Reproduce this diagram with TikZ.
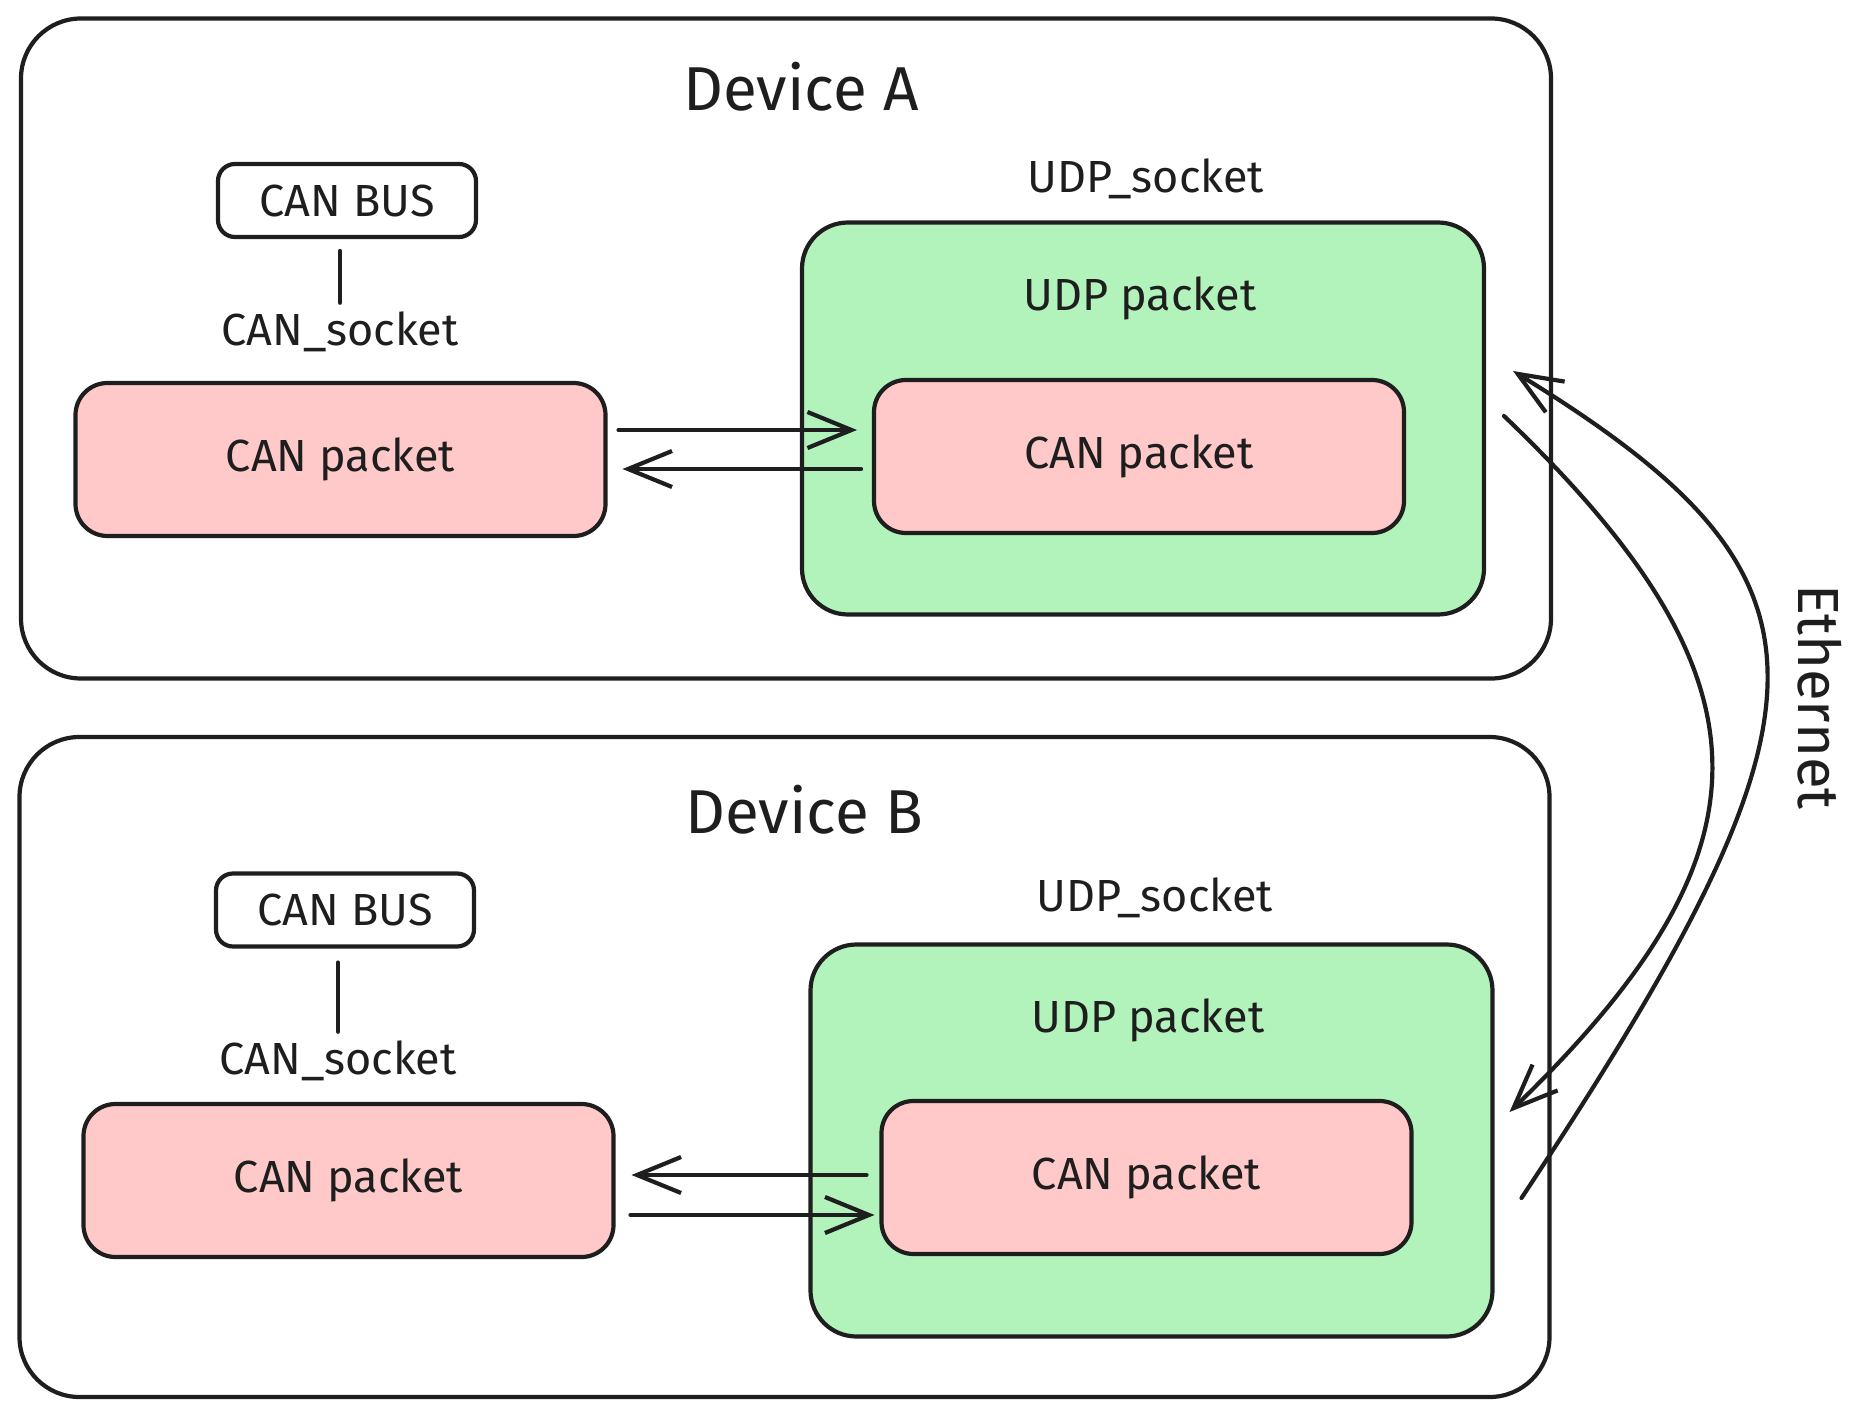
\documentclass[tikz,border=0pt]{standalone}
\usepackage{fontspec}
\setmainfont{Fira Sans}
\usetikzlibrary{arrows.meta}
\definecolor{ink}{HTML}{1E1E1E}
\definecolor{udpgreen}{HTML}{B2F2BB}
\definecolor{canred}{HTML}{FFC9C9}
\newcommand{\lblfont}{\fontsize{45}{54}\selectfont}
\newcommand{\titlefont}{\fontsize{62}{74}\selectfont}
\newcommand{\ethfont}{\fontsize{58}{70}\selectfont}
\tikzstyle{device} = [rectangle, rounded corners=60pt, minimum width=1530pt, minimum height=660pt, draw=ink, line width=4.2pt, outer sep=0pt]
\tikzstyle{udp} = [rectangle, rounded corners=46pt, minimum width=682pt, minimum height=392pt, draw=ink, fill=udpgreen, line width=4.2pt, outer sep=0pt]
\tikzstyle{packet} = [rectangle, rounded corners=32pt, minimum width=530pt, minimum height=153pt, draw=ink, fill=canred, line width=4.2pt, outer sep=0pt, text=ink, font=\lblfont]
\tikzstyle{bus} = [rectangle, rounded corners=17pt, minimum width=258pt, minimum height=73pt, draw=ink, line width=4.2pt, outer sep=0pt, text=ink, font=\lblfont]
\tikzstyle{tag} = [inner sep=0pt, text=ink, font=\lblfont]
\tikzstyle{heading} = [inner sep=0pt, text=ink, font=\titlefont]
\tikzstyle{flow} = [draw=ink, line width=4.2pt, line cap=round, -{Straight Barb[length=44pt,width=36pt]}]
\tikzstyle{link} = [draw=ink, line width=4.2pt, line cap=round]

\begin{document}
\begin{tikzpicture}[x=1pt, y=-1pt]
\useasboundingbox (0,0) rectangle (1875,1415);

% Device A
\node (devA) [device] at (786,348.5) {};
\node (titleA) [heading] at (801,87) {Device A};
\node (busA) [bus] at (347,200.5) {CAN BUS};
\node (sockA) [tag] at (340,332) {CAN\_socket};
\node (pktA) [packet] at (340.5,459.5) {CAN packet};
\node (udpsockA) [tag] at (1146,179) {UDP\_socket};
\node (udpA) [udp] at (1143,418.5) {};
\node (udplblA) [tag] at (1140,298) {UDP packet};
\node (inA) [packet] at (1139,456.5) {CAN packet};

\draw [link, shorten <=14pt, shorten >=9pt] (sockA.north |- busA.south) -- (sockA.north);
\draw [flow, shorten <=13pt, shorten >=17pt] ([yshift=29.5pt]pktA.east) -- ([yshift=29.5pt]pktA.east -| inA.west);
\draw [flow, shorten <=13pt, shorten >=17pt] ([yshift=-9.5pt]pktA.east -| inA.west) -- ([yshift=-9.5pt]pktA.east);

% Device B
\node (devB) [device] at (784.5,1067) {};
\node (titleB) [heading] at (804,810) {Device B};
\node (busB) [bus] at (345,910) {CAN BUS};
\node (sockB) [tag] at (338,1061) {CAN\_socket};
\node (pktB) [packet] at (348.5,1180.5) {CAN packet};
\node (udpsockB) [tag] at (1155,898) {UDP\_socket};
\node (udpB) [udp] at (1151.5,1140.5) {};
\node (udplblB) [tag] at (1148,1020) {UDP packet};
\node (inB) [packet] at (1146.5,1177.5) {CAN packet};

\draw [link, shorten <=16pt, shorten >=9pt] (sockB.north |- busB.south) -- (sockB.north);
\draw [flow, shorten <=15pt, shorten >=18pt] ([yshift=5.5pt]pktB.east -| inB.west) -- ([yshift=5.5pt]pktB.east);
\draw [flow, shorten <=17pt, shorten >=7pt] ([yshift=-34.5pt]pktB.east) -- ([yshift=-34.5pt]pktB.east -| inB.west);

% Ethernet
\draw [flow] ([xshift=29pt,yshift=-57.5pt]udpB.east) .. controls (1850,702) and (1850,578) .. ([xshift=29pt,yshift=47.5pt]udpA.east);
\draw [flow] ([xshift=20pt,yshift=2.5pt]udpA.east) .. controls (1780,680) and (1780,850) .. ([xshift=17pt,yshift=28.5pt]udpB.east);
\node (eth) [inner sep=0pt, text=ink, font=\ethfont, rotate=-90] at (1820,697) {Ethernet};
\end{tikzpicture}
\end{document}
